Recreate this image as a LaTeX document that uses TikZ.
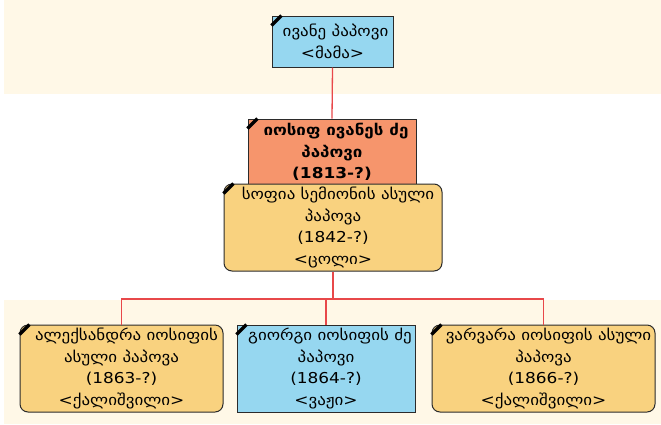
\documentclass[tikz,border=0pt]{standalone}
\usepackage{fontspec}
\setmainfont{DejaVu Sans}[FakeStretch=1.13]
\definecolor{cream}{HTML}{FFF8E7}
\definecolor{pblue}{HTML}{96D7F0}
\definecolor{porange}{HTML}{F6956C}
\definecolor{pyellow}{HTML}{F9D27F}
\definecolor{linkred}{HTML}{E8484A}
\definecolor{edge}{HTML}{2B2B2B}
\tikzset{
  person/.style={draw=edge, line width=1pt, inner sep=0pt, align=center,
    font=\fontsize{15}{21.5}\selectfont},
  male/.style={person, fill=pblue, rectangle},
  female/.style={person, fill=pyellow, rounded corners=8pt},
  mainp/.style={person, fill=porange, font=\fontsize{15}{21.5}\selectfont\bfseries},
  link/.style={draw=linkred, line width=1.3pt},
  stripe/.style={line width=3.5pt, black},
  band/.style={fill=cream, draw=none}
}
\begin{document}
\begin{tikzpicture}[x=1pt,y=-1pt]
\useasboundingbox (0,0) rectangle (661,424);
\fill[white] (0,0) rectangle (661,424);
\fill[band] (4,0) rectangle (661,94);
\fill[band] (4,300) rectangle (661,424);

\node[male, minimum width=121pt, minimum height=51pt] (ivane) at (332.5,41.5)
  {\hspace*{6pt}ივანე პაპოვი\\<მამა>};
\node[mainp, minimum width=168pt, minimum height=66pt] (iosif) at (332,152)
  {\hspace*{8pt}იოსიფ ივანეს ძე\\პაპოვი\\(1813-?)};
\node[female, minimum width=218pt, minimum height=87pt] (sofia) at (333,227.5)
  {\hspace*{10pt}სოფია სემიონის ასული\\პაპოვა\\(1842-?)\\<ცოლი>};
\node[female, minimum width=203pt, minimum height=87pt] (alek) at (121.5,368.5)
  {\hspace*{10pt}ალექსანდრა იოსიფის\\ასული პაპოვა\\(1863-?)\\<ქალიშვილი>};
\node[male, minimum width=178pt, minimum height=87pt] (giorgi) at (326,368.5)
  {\hspace*{8pt}გიორგი იოსიფის ძე\\პაპოვი\\(1864-?)\\<ვაჟი>};
\node[female, minimum width=223pt, minimum height=87pt] (varvara) at (543.5,368.5)
  {\hspace*{10pt}ვარვარა იოსიფის ასული\\პაპოვა\\(1866-?)\\<ქალიშვილი>};

\foreach \n in {ivane,iosif,sofia,alek,giorgi,varvara}
  \draw[stripe] ([yshift=-10pt]\n.north west) -- ([xshift=10pt]\n.north west);

\coordinate (bus) at (333,299);
\draw[link] (ivane.south) -- (iosif.north);
\draw[link] (sofia.south) -- (bus);
\draw[link] (bus) -| (alek.north);
\draw[link] (bus) -| (giorgi.north);
\draw[link] (bus) -| (varvara.north);
\end{tikzpicture}
\end{document}
